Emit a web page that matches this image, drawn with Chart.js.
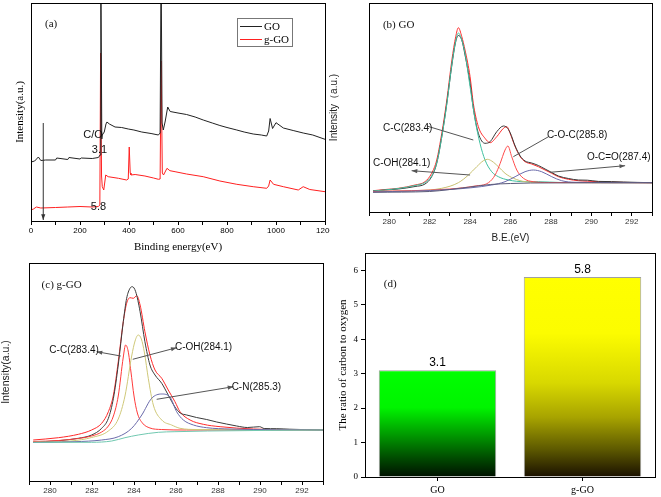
<!DOCTYPE html>
<html>
<head>
<meta charset="utf-8">
<script src="https://cdn.jsdelivr.net/npm/chart.js@4.4.1/dist/chart.umd.min.js"></script>
<style>
  body { margin: 0; background: #fff; }
  #wrap { position: relative; width: 661px; height: 497px; overflow: hidden; background: #fff; }
  #wrap canvas { position: absolute; }
</style>
</head>
<body>
<div id="wrap">
  <canvas id="surveyChart" width="330" height="255" style="left:0;top:0"></canvas>
  <canvas id="goChart" width="335" height="250" style="left:326px;top:0"></canvas>
  <canvas id="ggoChart" width="330" height="247" style="left:0;top:250px"></canvas>
  <canvas id="ratioChart" width="331" height="247" style="left:330px;top:250px"></canvas>
</div>
<script>
const SANS = '"Liberation Sans", Arial, sans-serif'
const SERIF = '"Liberation Serif", "Times New Roman", serif'

Chart.defaults.font.family = SANS
Chart.defaults.color = '#000'
Chart.defaults.animation = false
Chart.defaults.responsive = false
Chart.defaults.plugins.legend.display = false
Chart.defaults.plugins.tooltip.enabled = false

// (a) XPS survey, binding energy (eV) / intensity (a.u.)
const surveyLabels = ['GO', 'g-GO']
const surveyGoBE = [0, 15, 30, 40, 60, 100, 105, 150, 155, 200, 205, 250, 275, 282, 285, 289, 291, 299, 306, 310, 320, 343, 370, 397, 420, 452, 490, 520, 527, 531, 535, 540, 548, 558, 568, 600, 635, 670, 703, 740, 771, 800, 840, 870, 907, 940, 962, 970, 976, 986, 1000, 1030, 1070, 1111, 1150, 1200]
const surveyGoInt = [59, 60, 64, 60.5, 61, 61, 63, 61.5, 63.5, 62, 63, 62.5, 63.5, 66, 260, 82, 86, 89, 97, 99, 97, 94, 93.5, 92, 91, 89, 87.5, 86, 88, 260, 98, 91, 100, 114, 109.5, 108, 106.5, 104, 101, 98, 95.5, 93.5, 91, 89, 87, 86, 85, 90, 102.5, 92.5, 98.3, 93, 90.5, 88, 86, 81.7]
const surveyGgoBE = [0, 10, 22, 40, 100, 150, 200, 250, 275, 281, 284, 288, 291, 297, 305, 315, 357, 390, 397, 401, 405, 408, 425, 465, 500, 520, 527, 531, 536, 541, 555, 567, 588, 635, 703, 771, 840, 907, 962, 970, 976, 990, 1030, 1091, 1111, 1138, 1200]
const surveyGgoInt = [11, 12, 14, 13, 13.5, 14, 14.5, 14, 14.5, 16, 168, 45, 34.3, 31, 46, 44.3, 42.7, 41, 42, 74, 48, 46, 46.5, 45, 43, 41.7, 42, 160, 48, 46, 52.7, 50.3, 49.3, 47, 44.3, 40, 36.7, 34.3, 32.7, 35, 41, 36.7, 34.3, 31, 34.3, 31.5, 29.3]

// (b) C1s of GO
const goEnvBE = [279.2, 279.8, 280.45, 281.28, 281.77, 282.1, 282.35, 282.6, 282.85, 283.1, 283.29, 283.42, 283.59, 283.75, 284.0, 284.16, 284.41, 284.74, 284.99, 285.32, 285.65, 285.82, 285.98, 286.23, 286.48, 286.72, 287.05, 287.38, 287.71, 288.04, 288.37, 288.87, 289.36, 289.8, 290.35, 291.0, 291.6, 292.3, 293.0]
const goRawInt = [21, 22, 23, 25.5, 28, 35.3, 48.7, 75.3, 108.7, 147, 170.3, 176.5, 172, 157, 128.7, 103.7, 78.7, 68.7, 70.3, 80.3, 86, 84.5, 79.5, 66, 56, 51, 49, 46.5, 43, 39.5, 36, 33.5, 32, 31.8, 30.6, 30.4, 30, 29.6, 29.3]
const goFitInt = [21.3, 22.5, 23.7, 27, 30.3, 38.7, 52, 78.7, 112, 152, 175.3, 184.3, 175.3, 162, 135.3, 108.7, 85.3, 73.7, 69.3, 75.3, 83.7, 85.3, 78.7, 65.3, 55.3, 50.3, 48, 45.3, 42, 38.7, 35.3, 32.7, 31.3, 30.8, 30.3, 29.9, 29.6, 29.4, 29.3]
const goCcBE = [279.2, 280.45, 281.28, 281.77, 282.1, 282.35, 282.6, 282.85, 283.1, 283.29, 283.42, 283.59, 283.75, 284.0, 284.25, 284.49, 284.74, 285.07, 285.4, 285.9, 286.72, 287.38, 288.5, 293]
const goCcInt = [21, 23.5, 26.5, 29.5, 36, 49, 75, 108, 148, 171, 179, 172, 158.7, 125.3, 92, 68.7, 52, 40.3, 35.3, 32, 30.3, 30.3, 29.5, 29.3]
const goOhBE = [279.2, 281.28, 282.6, 283.42, 283.92, 284.33, 284.66, 284.86, 285.07, 285.4, 285.73, 286.15, 286.72, 287.5, 293]
const goOhInt = [20.5, 21.3, 23.7, 29.3, 37, 45.3, 51.3, 52.7, 51, 45.3, 38.7, 33.7, 30.3, 29.5, 29.3]
const goCocBE = [279.2, 283.0, 284.25, 284.91, 285.24, 285.49, 285.73, 285.87, 286.06, 286.31, 286.64, 287.13, 287.87, 293]
const goCocInt = [20.5, 23, 26, 29.3, 37, 48.7, 62, 66, 55.3, 42, 33.7, 30.3, 29.5, 29.3]
const goOcoBE = [279.2, 283.0, 285.07, 285.73, 286.23, 286.72, 287.13, 287.54, 288.04, 288.53, 289.2, 293]
const goOcoInt = [20, 22.5, 27, 30.3, 35.3, 40.3, 42, 40.3, 35.3, 31.3, 29.7, 29.3]
const goBaseBE = [279.2, 282.0, 283.0, 284.0, 285.0, 286.0, 287.0, 293]
const goBaseInt = [19.7, 20.5, 22.5, 25, 27.5, 28.5, 29, 29.3]

// (c) C1s of g-GO
const ggoRawBE = [279.2, 280.4, 281.35, 281.98, 282.46, 282.78, 283.02, 283.25, 283.49, 283.65, 283.81, 283.92, 284.08, 284.29, 284.52, 284.76, 285.0, 285.32, 285.63, 285.95, 286.2, 286.51, 286.98, 287.46, 287.94, 288.4, 288.89, 289.4, 289.98, 290.2, 290.8, 291.4, 292.1, 293]
const ggoRawInt = [38.7, 40.3, 42.7, 46, 52.7, 62.7, 82.7, 116, 159.3, 182.7, 192.7, 194.3, 189.3, 169.3, 139.3, 116, 106, 97.7, 86, 74, 68, 66, 63.5, 61.5, 59, 57, 55, 53.5, 54.3, 52.5, 52.3, 51.8, 51.4, 51]
const ggoFitBE = [279.2, 280.4, 281.35, 281.98, 282.46, 282.78, 283.02, 283.25, 283.49, 283.65, 283.81, 283.97, 284.13, 284.29, 284.52, 284.76, 285.0, 285.32, 285.63, 285.95, 286.19, 286.67, 287.3, 288.1, 289.69, 293]
const ggoFitInt = [41, 43.3, 46.7, 51, 57.7, 69.3, 86, 119.3, 159.3, 177.7, 183.3, 182.7, 185.3, 176, 149.3, 126, 111, 102.7, 91, 79.3, 69.3, 61, 56.7, 54.3, 52, 51]
const ggoCcBE = [279.2, 280.4, 281.35, 281.98, 282.46, 282.78, 283.02, 283.25, 283.49, 283.6, 283.72, 283.85, 284.0, 284.16, 284.4, 284.76, 285.3, 286.5, 293]
const ggoCcInt = [39.5, 40.5, 42.5, 45, 49, 55, 65, 85, 124, 136, 130, 110, 85, 68, 58, 53, 51.5, 51, 51]
const ggoOhBE = [279.2, 281.0, 281.98, 282.78, 283.25, 283.57, 283.89, 284.05, 284.2, 284.35, 284.5, 284.68, 284.92, 285.32, 285.79, 286.19, 287.0, 293]
const ggoOhInt = [38.7, 40, 43.5, 50, 62, 85, 125, 140, 146, 142, 128, 102.7, 76, 61, 56, 52.7, 51.5, 51]
const ggoCnBE = [279.2, 281.19, 282.46, 283.25, 283.89, 284.37, 284.84, 285.32, 285.71, 286.03, 286.35, 286.83, 287.46, 288.57, 293]
const ggoCnInt = [38.5, 39.3, 41, 44.3, 52.7, 66, 82.7, 87, 84, 69.3, 61, 56, 53.3, 52, 51]
const ggoBaseBE = [279.2, 281.98, 282.94, 283.57, 284.2, 285.16, 285.95, 287.5, 293]
const ggoBaseInt = [38.7, 38.7, 40, 43.3, 46, 48.7, 49.3, 50, 51]

// (d) C/O ratio
const ratioLabels = ['GO', 'g-GO']
const ratioValues = [3.1, 5.8]

// ---------- helpers ----------
const pts = (xs, ys) => xs.map((x, i) => ({ x, y: ys[i] }))

const curve = (xs, ys, color, smooth = true) => ({
    data: pts(xs, ys),
    borderColor: color,
    borderWidth: 1,
    pointRadius: 0,
    tension: smooth ? 0.4 : 0,
    cubicInterpolationMode: smooth ? 'monotone' : 'default'
})

// pin axis sizes so the plot boxes land where the figure has them
const fixSize = size => scale => {
    if (scale.isHorizontal()) scale.height = size
    else scale.width = size
    scale.paddingLeft = 0
    scale.paddingRight = 0
    scale.paddingTop = 0
    scale.paddingBottom = 0
}

const frame = {
    id: 'frame',
    afterDraw(chart) {
        const { ctx, chartArea: a } = chart
        ctx.save()
        ctx.strokeStyle = '#000'
        ctx.lineWidth = 1
        ctx.strokeRect(a.left + 0.5, a.top + 0.5, a.right - a.left, a.bottom - a.top)
        ctx.restore()
    }
}

const arrowHead = (ctx, x1, y1, x2, y2) => {
    const ang = Math.atan2(y2 - y1, x2 - x1)
    ctx.beginPath()
    ctx.moveTo(x2, y2)
    ctx.lineTo(x2 - 6 * Math.cos(ang - 0.35), y2 - 6 * Math.sin(ang - 0.35))
    ctx.lineTo(x2 - 6 * Math.cos(ang + 0.35), y2 - 6 * Math.sin(ang + 0.35))
    ctx.closePath()
    ctx.fill()
}

// labels and leader lines, placed in data coordinates
const notes = {
    id: 'notes',
    afterDraw(chart, args, opts) {
        const { ctx, scales: { x, y } } = chart
        const px = v => x.getPixelForValue(v)
        const py = v => y.getPixelForValue(v)
        ctx.save()
        ;(opts.lines || []).forEach(l => {
            const x1 = px(l.from[0]), y1 = py(l.from[1]), x2 = px(l.to[0]), y2 = py(l.to[1])
            ctx.strokeStyle = l.color || '#555'
            ctx.fillStyle = l.color || '#555'
            ctx.lineWidth = 1
            ctx.beginPath()
            ctx.moveTo(x1, y1)
            ctx.lineTo(x2, y2)
            ctx.stroke()
            if (l.arrow) arrowHead(ctx, x1, y1, x2, y2)
        })
        ;(opts.texts || []).forEach(t => {
            ctx.font = t.font
            ctx.fillStyle = t.color || '#111'
            ctx.textAlign = 'left'
            ctx.textBaseline = 'middle'
            ctx.fillText(t.text, px(t.at[0]), py(t.at[1]))
        })
        ctx.restore()
    }
}

const keyBox = {
    id: 'keyBox',
    afterDraw(chart) {
        const { ctx, chartArea: a } = chart
        const x0 = a.right - 88, y0 = a.top + 15
        ctx.save()
        ctx.fillStyle = '#fff'
        ctx.fillRect(x0, y0, 55, 28)
        ctx.strokeStyle = '#777'
        ctx.lineWidth = 1
        ctx.strokeRect(x0 + 0.5, y0 + 0.5, 55, 28)
        ctx.font = `11px ${SERIF}`
        ctx.textBaseline = 'middle'
        chart.data.datasets.forEach((ds, i) => {
            const yy = y0 + 8 + i * 13
            ctx.strokeStyle = ds.borderColor
            ctx.beginPath()
            ctx.moveTo(x0 + 3, yy + 0.5)
            ctx.lineTo(x0 + 25, yy + 0.5)
            ctx.stroke()
            ctx.fillStyle = '#000'
            ctx.fillText(ds.label, x0 + 27, yy + 1)
        })
        ctx.restore()
    }
}

const spectrumScales = ({ xMin, xMax, xStep, labelEvery, yMax, yWidth, xHeight, tickSize, tickColor, xTitle, yTitle }) => ({
    x: {
        type: 'linear',
        min: xMin,
        max: xMax,
        afterFit: fixSize(xHeight),
        border: { display: true, color: '#000' },
        grid: { drawOnChartArea: false, tickLength: 4, color: '#000' },
        ticks: {
            stepSize: xStep,
            maxTicksLimit: 30,
            autoSkip: false,
            maxRotation: 0,
            padding: 1,
            color: tickColor,
            font: { size: tickSize },
            callback: v => (v % labelEvery === 0 ? String(v) : '')
        },
        title: xTitle || { display: false }
    },
    y: {
        min: 0,
        max: yMax,
        afterFit: fixSize(yWidth),
        border: { display: true, color: '#000' },
        grid: { display: false },
        ticks: { display: false },
        title: yTitle
    }
})

// ---------- (a) ----------
new Chart('surveyChart', {
    type: 'line',
    data: {
        datasets: [
            { label: surveyLabels[0], ...curve(surveyGoBE, surveyGoInt, '#222', false) },
            { label: surveyLabels[1], ...curve(surveyGgoBE, surveyGgoInt, '#ff2020', false) }
        ]
    },
    options: {
        layout: { padding: { top: 3, right: 5, left: 0, bottom: 0 } },
        scales: spectrumScales({
            xMin: 0, xMax: 1200, xStep: 100, labelEvery: 200, yMax: 218,
            yWidth: 31, xHeight: 34, tickSize: 8, tickColor: '#000',
            xTitle: { display: true, text: 'Binding energy(eV)', font: { family: SERIF, size: 11 }, padding: { top: 0, bottom: 1 } },
            yTitle: { display: true, text: 'Intensity(a.u.)', font: { family: SERIF, size: 11 }, padding: { top: 14, bottom: 0 } }
        }),
        plugins: {
            notes: {
                texts: [
                    { text: '(a)', at: [57, 197], font: `11px ${SERIF}` },
                    { text: 'C/O', at: [213, 86], font: `11px ${SANS}` },
                    { text: '3.1', at: [248, 71], font: `11px ${SANS}` },
                    { text: '5.8', at: [244, 14.3], font: `11px ${SANS}` }
                ],
                lines: [{ from: [50, 98], to: [50, 1], arrow: true, color: '#333' }]
            }
        }
    },
    plugins: [frame, notes, keyBox]
})

// ---------- (b) ----------
new Chart('goChart', {
    type: 'line',
    data: {
        datasets: [
            curve(goBaseBE, goBaseInt, '#5a5a78'),
            curve(goOcoBE, goOcoInt, '#6a6aaa'),
            curve(goCocBE, goCocInt, '#ff4a4a'),
            curve(goOhBE, goOhInt, '#c8c070'),
            curve(goCcBE, goCcInt, '#40c0a0'),
            curve(goEnvBE, goRawInt, '#3a3a3a'),
            curve(goEnvBE, goFitInt, '#ff2a2a')
        ]
    },
    options: {
        layout: { padding: { top: 3, right: 9, left: 0, bottom: 0 } },
        scales: spectrumScales({
            xMin: 279, xMax: 293, xStep: 1, labelEvery: 2, yMax: 209,
            yWidth: 43, xHeight: 38, tickSize: 8, tickColor: '#333',
            xTitle: { display: true, text: 'B.E.(eV)', font: { size: 10 }, color: '#222', padding: { top: 0, bottom: 6 } },
            yTitle: { display: true, text: 'Intensity（a.u.)', font: { size: 10 }, color: '#222', padding: { top: 2, bottom: 0 } }
        }),
        plugins: {
            notes: {
                texts: [
                    { text: '(b) GO', at: [279.69, 187], font: `11px ${SERIF}` },
                    { text: 'C-C(283.4)', at: [279.69, 84], font: `10px ${SANS}` },
                    { text: 'C-O-C(285.8)', at: [287.8, 77], font: `10px ${SANS}` },
                    { text: 'C-OH(284.1)', at: [279.2, 49], font: `10px ${SANS}` },
                    { text: 'O-C=O(287.4)', at: [289.78, 55], font: `10px ${SANS}` }
                ],
                lines: [
                    { from: [281.86, 86], to: [284.16, 72] },
                    { from: [287.88, 75.3], to: [286.14, 55.3] },
                    { from: [284.0, 37], to: [281.11, 41.3], arrow: true },
                    { from: [287.96, 39.7], to: [291.67, 46.3], arrow: true }
                ]
            }
        }
    },
    plugins: [frame, notes]
})

// ---------- (c) ----------
new Chart('ggoChart', {
    type: 'line',
    data: {
        datasets: [
            curve(ggoBaseBE, ggoBaseInt, '#70c8b0'),
            curve(ggoCnBE, ggoCnInt, '#6a6aaa'),
            curve(ggoOhBE, ggoOhInt, '#cfc878'),
            curve(ggoCcBE, ggoCcInt, '#ff3a3a'),
            curve(ggoRawBE, ggoRawInt, '#3a3a3a'),
            curve(ggoFitBE, ggoFitInt, '#ff2a2a')
        ]
    },
    options: {
        layout: { padding: { top: 13, right: 7, left: 0, bottom: 0 } },
        scales: spectrumScales({
            xMin: 279, xMax: 293, xStep: 1, labelEvery: 2, yMax: 218,
            yWidth: 29, xHeight: 16, tickSize: 8, tickColor: '#333',
            yTitle: { display: true, text: 'Intensity(a.u.)', font: { size: 10.5 }, color: '#222', padding: { top: 0, bottom: 0 } }
        }),
        plugins: {
            notes: {
                texts: [
                    { text: '(c) g-GO', at: [279.6, 196], font: `11px ${SERIF}` },
                    { text: 'C-C(283.4)', at: [279.97, 130.3], font: `10px ${SANS}` },
                    { text: 'C-OH(284.1)', at: [285.95, 133.3], font: `10px ${SANS}` },
                    { text: 'C-N(285.3)', at: [288.65, 93.7], font: `10px ${SANS}` }
                ],
                lines: [
                    { from: [283.37, 125], to: [282.22, 129.3], arrow: true },
                    { from: [283.94, 121.7], to: [286.03, 133.3], arrow: true },
                    { from: [285.08, 81.7], to: [288.73, 94.3], arrow: true }
                ]
            }
        }
    },
    plugins: [frame, notes]
})

// ---------- (d) ----------
const barTop = ['#00ff00', '#ffff00']
const barStops = [
    [[0, '#00ff00'], [0.35, '#00f400'], [0.62, '#009400'], [0.82, '#004c00'], [1, '#001000']],
    [[0, '#ffff00'], [0.28, '#fcfc00'], [0.53, '#d8d800'], [0.7, '#a8a400'], [0.86, '#5e5a00'], [1, '#1a1000']]
]
const barFill = context => {
    const chart = context.chart
    if (!chart.chartArea) return barTop[context.dataIndex]
    const y = chart.scales.y
    const top = y.getPixelForValue(context.raw)
    const bottom = y.getPixelForValue(0)
    const g = chart.ctx.createLinearGradient(0, top, 0, bottom)
    barStops[context.dataIndex].forEach(([p, c]) => g.addColorStop(p, c))
    return g
}

const barValues = {
    id: 'barValues',
    afterDatasetsDraw(chart) {
        const { ctx } = chart
        const ds = chart.data.datasets[0]
        ctx.save()
        ctx.font = `12px ${SANS}`
        ctx.fillStyle = '#000'
        ctx.textAlign = 'center'
        ctx.textBaseline = 'bottom'
        chart.getDatasetMeta(0).data.forEach((bar, i) => ctx.fillText(String(ds.data[i]), bar.x, bar.y - 1))
        ctx.restore()
    }
}

new Chart('ratioChart', {
    type: 'bar',
    data: {
        labels: ratioLabels,
        datasets: [{
            data: ratioValues,
            backgroundColor: barFill,
            borderColor: '#a0a0a0',
            borderWidth: 1,
            barPercentage: 0.81,
            categoryPercentage: 1
        }]
    },
    options: {
        layout: { padding: { top: 3, right: 6, left: 0, bottom: 0 } },
        scales: {
            x: {
                afterFit: fixSize(20),
                border: { display: true, color: '#000' },
                grid: { drawOnChartArea: false, offset: false, tickLength: 4, color: '#000' },
                ticks: { padding: 3, font: { family: SERIF, size: 10 } }
            },
            y: {
                min: 0,
                max: 6.5,
                afterFit: fixSize(35),
                border: { display: true, color: '#000' },
                grid: { drawOnChartArea: false, tickLength: 4, color: '#000' },
                ticks: { stepSize: 1, includeBounds: false, padding: 3, font: { family: SERIF, size: 9 } },
                title: { display: true, text: 'The ratio of carbon to oxygen', font: { family: SERIF, size: 11 }, padding: { top: 7, bottom: 0 } }
            }
        },
        plugins: {
            notes: {
                texts: [{ text: '(d)', at: [-0.37, 5.6], font: `11px ${SERIF}` }]
            }
        }
    },
    plugins: [frame, notes, barValues]
})
</script>
</body>
</html>
